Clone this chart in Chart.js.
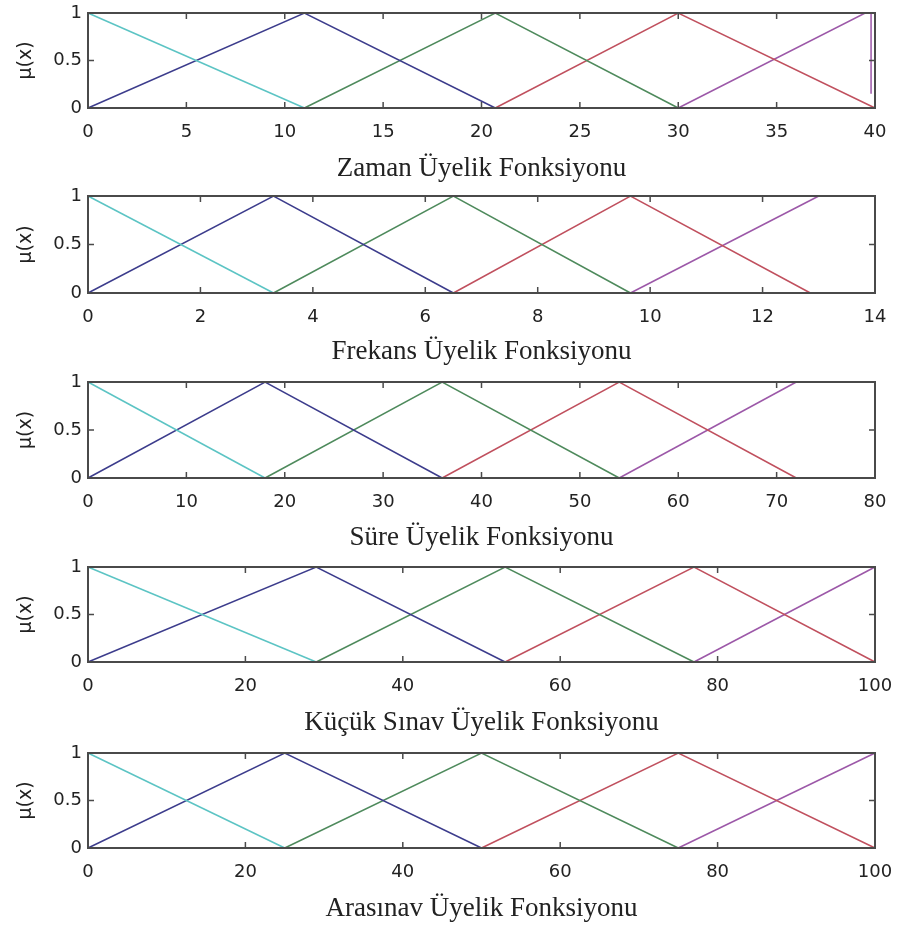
<!DOCTYPE html>
<html>
<head>
<meta charset="utf-8">
<script src="https://cdn.jsdelivr.net/npm/chart.js@4"></script>
<style>
  body { margin: 0; background: #fff; }
  .panel { position: absolute; left: 0; }
</style>
</head>
<body>
<div id="wrap"></div>
<script>
// Membership functions, one list of [x, mu] polylines per variable
// (cyan, blue, green, red, magenta)
const zaman = [
  [[0, 1], [11, 0]],
  [[0, 0], [11, 1], [20.7, 0]],
  [[11, 0], [20.7, 1], [30, 0]],
  [[20.7, 0], [30, 1], [40, 0]],
  [[30, 0], [39.5, 1], [39.8, 1], [39.8, 0.15]]
];
const frekans = [
  [[0, 1], [3.3, 0]],
  [[0, 0], [3.3, 1], [6.5, 0]],
  [[3.3, 0], [6.5, 1], [9.65, 0]],
  [[6.5, 0], [9.65, 1], [12.85, 0]],
  [[9.65, 0], [13, 1]]
];
const sure = [
  [[0, 1], [18, 0]],
  [[0, 0], [18, 1], [36, 0]],
  [[18, 0], [36, 1], [54, 0]],
  [[36, 0], [54, 1], [72, 0]],
  [[54, 0], [72, 1]]
];
const kucukSinav = [
  [[0, 1], [29, 0]],
  [[0, 0], [29, 1], [53, 0]],
  [[29, 0], [53, 1], [77, 0]],
  [[53, 0], [77, 1], [100, 0]],
  [[77, 0], [100, 1]]
];
const arasinav = [
  [[0, 1], [25, 0]],
  [[0, 0], [25, 1], [50, 0]],
  [[25, 0], [50, 1], [75, 0]],
  [[50, 0], [75, 1], [100, 0]],
  [[75, 0], [100, 1]]
];

const panelData = [zaman, frekans, sure, kucukSinav, arasinav];
const panelTitles = [
  "Zaman Üyelik Fonksiyonu",
  "Frekans Üyelik Fonksiyonu",
  "Süre Üyelik Fonksiyonu",
  "Küçük Sınav Üyelik Fonksiyonu",
  "Arasınav Üyelik Fonksiyonu"
];
const xMax = [40, 14, 80, 100, 100];
const xStep = [5, 2, 10, 20, 20];
const yTicks = [0, 0.5, 1];

const lineColors = ["#5cc4c4", "#3c3c8c", "#4e8a5c", "#c0505e", "#9c58a8"];
const plotTop = [13, 196, 382, 567, 753];
const plotBottom = [108, 293, 478, 662, 848];
const canvasH = 185;
const topPad = 13;

// boxed axes with inward ticks on all four sides
const framePlugin = {
  id: "frame",
  afterDatasetsDraw(chart) {
    const { ctx, chartArea: a, scales: { x, y } } = chart;
    ctx.save();
    ctx.strokeStyle = "#4a4a4a";
    ctx.lineWidth = 1.5;
    ctx.beginPath();
    x.ticks.forEach(t => {
      const px = x.getPixelForValue(t.value);
      if (px <= a.left + 1 || px >= a.right - 1) return;
      ctx.moveTo(px, a.bottom); ctx.lineTo(px, a.bottom - 6);
      ctx.moveTo(px, a.top); ctx.lineTo(px, a.top + 6);
    });
    y.ticks.forEach(t => {
      const py = y.getPixelForValue(t.value);
      if (py <= a.top + 1 || py >= a.bottom - 1) return;
      ctx.moveTo(a.left, py); ctx.lineTo(a.left + 6, py);
      ctx.moveTo(a.right, py); ctx.lineTo(a.right - 6, py);
    });
    ctx.stroke();
    ctx.lineWidth = 2;
    ctx.strokeRect(a.left, a.top, a.right - a.left, a.bottom - a.top);
    ctx.restore();
  }
};

const wrap = document.getElementById("wrap");

panelData.forEach((series, i) => {
  const div = document.createElement("div");
  div.className = "panel";
  div.style.top = (plotTop[i] - topPad) + "px";
  const canvas = document.createElement("canvas");
  canvas.width = 897;
  canvas.height = canvasH;
  div.appendChild(canvas);
  wrap.appendChild(div);

  const xHeight = canvasH - topPad - (plotBottom[i] - plotTop[i]);

  new Chart(canvas.getContext("2d"), {
    type: "line",
    data: {
      datasets: series.map((pts, k) => ({
        data: pts.map(p => ({ x: p[0], y: p[1] })),
        borderColor: lineColors[k],
        borderWidth: 1.5,
        pointRadius: 0,
        tension: 0,
        fill: false,
        clip: false
      }))
    },
    options: {
      responsive: false,
      animation: false,
      events: [],
      layout: { padding: { top: topPad, right: 22, bottom: 0, left: 0 } },
      plugins: { legend: { display: false }, tooltip: { enabled: false } },
      scales: {
        x: {
          type: "linear",
          min: 0,
          max: xMax[i],
          grid: { display: false, drawTicks: false },
          border: { display: false },
          ticks: {
            stepSize: xStep[i],
            padding: 14,
            color: "#222",
            font: { family: "DejaVu Sans", size: 18 },
            maxRotation: 0
          },
          title: {
            display: true,
            text: panelTitles[i],
            color: "#222",
            font: { family: "Liberation Serif", size: 27, lineHeight: 1.2 },
            padding: { top: 0, bottom: 0 }
          },
          afterFit(scale) {
            scale.height = xHeight;
            scale.paddingLeft = 0;
            scale.paddingRight = 0;
          }
        },
        y: {
          min: 0,
          max: 1,
          grid: { display: false, drawTicks: false },
          border: { display: false },
          afterBuildTicks(scale) { scale.ticks = yTicks.map(v => ({ value: v })); },
          ticks: {
            padding: 6,
            color: "#222",
            font: { family: "DejaVu Sans", size: 18 },
            callback: v => String(v)
          },
          title: {
            display: true,
            text: "μ(x)",
            color: "#222",
            font: { family: "DejaVu Sans", size: 19, lineHeight: 1.2 },
            padding: { top: 15, bottom: 0 }
          },
          afterFit(scale) {
            scale.width = 88;
            scale.paddingTop = 0;
            scale.paddingBottom = 0;
          }
        }
      }
    },
    plugins: [framePlugin]
  });
});
</script>
</body>
</html>
